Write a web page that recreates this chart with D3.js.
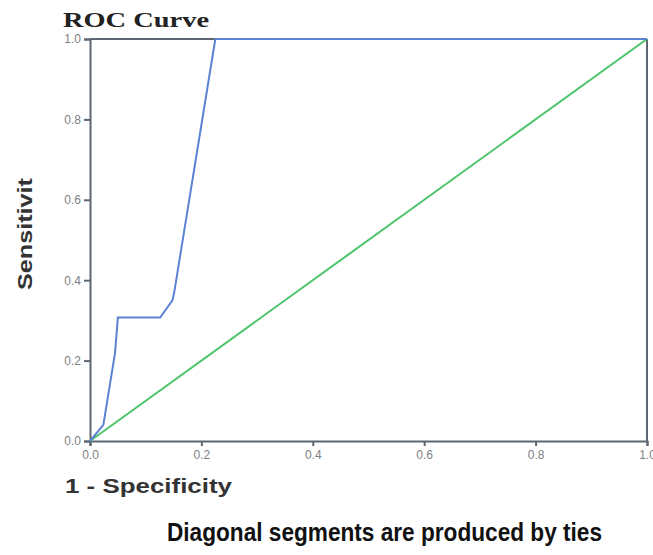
<!DOCTYPE html>
<html>
<head>
<meta charset="utf-8">
<script src="https://cdn.jsdelivr.net/npm/d3@7"></script>
<style>
  body { margin: 0; background: #fff; }
  svg { display: block; }
</style>
</head>
<body>
<svg width="653" height="555"></svg>
<script>
// ROC curve points (1 - specificity, sensitivity)
const fpr = [0, 0.024, 0.045, 0.05, 0.126, 0.148, 0.151, 0.225, 1];
const tpr = [0, 0.04, 0.22, 0.307, 0.307, 0.35, 0.368, 1, 1];
// reference line
const refX = [0, 1];
const refY = [0, 1];
const ticks = [0, 0.2, 0.4, 0.6, 0.8, 1.0];

const svg = d3.select("svg");
const x = d3.scaleLinear().domain([0, 1]).range([90, 647]);
const y = d3.scaleLinear().domain([0, 1]).range([441, 39]);

const axisColor = "#5f6673";

// frame (top + right)
svg.append("line")
  .attr("x1", x(0)).attr("x2", x(1)).attr("y1", y(1)).attr("y2", y(1))
  .style("stroke", axisColor).style("stroke-width", 2);
svg.append("line")
  .attr("x1", x(1)).attr("x2", x(1)).attr("y1", y(0)).attr("y2", y(1))
  .style("stroke", axisColor).style("stroke-width", 2);

const xAxis = svg.append("g")
  .attr("transform", `translate(0,${y(0)})`)
  .call(d3.axisBottom(x).tickValues(ticks).tickFormat(d3.format(".1f")).tickSize(5).tickPadding(4));
const yAxis = svg.append("g")
  .attr("transform", `translate(${x(0)},0)`)
  .call(d3.axisLeft(y).tickValues(ticks).tickFormat(d3.format(".1f")).tickSize(6).tickPadding(3));

[xAxis, yAxis].forEach(a => {
  a.select(".domain").style("stroke", axisColor).style("stroke-width", 2);
  a.selectAll(".tick line").style("stroke", axisColor).style("stroke-width", 2);
  a.selectAll(".tick text")
    .style("font-family", "'Liberation Sans', Arial, sans-serif")
    .style("font-size", "12px")
    .style("fill", "#7d7f86");
});

// diagonal reference line
const line = d3.line().x(d => x(d[0])).y(d => y(d[1]));
svg.append("path")
  .datum(d3.zip(refX, refY))
  .attr("d", line)
  .style("fill", "none")
  .style("stroke", "#4cc46a")
  .style("stroke-width", 2);

// ROC curve
svg.append("path")
  .datum(d3.zip(fpr, tpr))
  .attr("d", line)
  .style("fill", "none")
  .style("stroke", "#5b82d3")
  .style("stroke-width", 2);

// title
svg.append("text")
  .attr("x", 63).attr("y", 27)
  .attr("textLength", 146)
  .attr("lengthAdjust", "spacingAndGlyphs")
  .text("ROC Curve")
  .style("font-family", "'Liberation Serif', 'Times New Roman', serif")
  .style("font-weight", "bold")
  .style("font-size", "21px")
  .style("fill", "#222");

// y label
svg.append("text")
  .attr("transform", "translate(32,234) rotate(-90)")
  .attr("text-anchor", "middle")
  .attr("textLength", 112)
  .attr("lengthAdjust", "spacingAndGlyphs")
  .text("Sensitivit")
  .style("font-family", "'Liberation Sans', Arial, sans-serif")
  .style("font-weight", "bold")
  .style("font-size", "20px")
  .style("fill", "#333");

// x label
svg.append("text")
  .attr("x", 65).attr("y", 493)
  .attr("textLength", 167)
  .attr("lengthAdjust", "spacingAndGlyphs")
  .text("1 - Specificity")
  .style("font-family", "'Liberation Sans', Arial, sans-serif")
  .style("font-weight", "bold")
  .style("font-size", "20px")
  .style("fill", "#333");

// footnote
svg.append("text")
  .attr("x", 167).attr("y", 541)
  .attr("textLength", 435)
  .attr("lengthAdjust", "spacingAndGlyphs")
  .text("Diagonal segments are produced by ties")
  .style("font-family", "'Liberation Sans Narrow', 'Arial Narrow', sans-serif")
  .style("font-weight", "bold")
  .style("font-size", "25px")
  .style("fill", "#111");
</script>
</body>
</html>
